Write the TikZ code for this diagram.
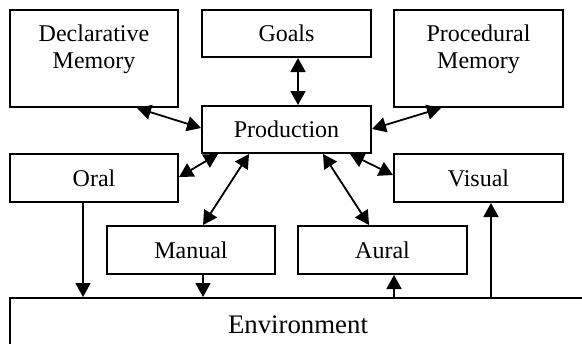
\documentclass[tikz,border=0pt]{standalone}
\usepackage{fontspec}
\setmainfont{Liberation Serif}
\usetikzlibrary{arrows.meta}
\begin{document}
\begin{tikzpicture}[x=0.5pt,y=-0.5pt,
  box/.style={draw=black, line width=1pt, fill=white, inner sep=0pt, font=\fontsize{12}{13.5}\selectfont},
  lbl/.style={align=center, font=\fontsize{12}{13.5}\selectfont},
  link/.style={line width=0.9pt, draw=black},
  tip/.style={-{Triangle[length=7pt,width=7.5pt]}},
  tips/.style={{Triangle[length=7pt,width=7.5pt]}-{Triangle[length=7pt,width=7.5pt]}}]
\useasboundingbox (0,0) rectangle (582,343);
\clip (0,0) rectangle (582,343);
% boxes
\node[box, minimum width=84pt, minimum height=48.5pt,
  label={[lbl, yshift=4.5pt]center:{Declarative\\Memory}}] (decl) at (94,58.5) {};
\node[box, minimum width=84.5pt, minimum height=23.5pt] (goals) at (286.5,33.5) {Goals};
\node[box, minimum width=84.5pt, minimum height=48.5pt,
  label={[lbl, yshift=4.5pt]center:{Procedural\\Memory}}] (proc) at (478.5,58.5) {};
\node[box, minimum width=84.5pt, minimum height=23.5pt] (prod) at (286.5,129.5) {Production};
\node[box, minimum width=84pt, minimum height=24pt] (oral) at (94,178) {Oral};
\node[box, minimum width=84.5pt, minimum height=24pt] (visual) at (478.5,178) {Visual};
\node[box, minimum width=84pt, minimum height=24pt] (manual) at (191,250) {Manual};
\node[box, minimum width=84.5pt, minimum height=24pt] (aural) at (382.5,250) {Aural};
\node[box, minimum width=288pt, minimum height=27pt, font=\fontsize{13.4}{15}\selectfont] (env) at (298,325) {Environment};
% connectors
\draw[link, tips] (decl.south -| 137,0) -- (prod.west |- 0,128);
\draw[link, tips] (goals.south -| 298,0) -- (prod.north -| 298,0);
\draw[link, tips] (proc.south -| 441,0) -- (prod.east |- 0,129);
\draw[link, tips] (oral.east |- 0,177) -- (prod.south -| 218,0);
\draw[link, tips] (prod.south -| 249,0) -- (manual.north -| 203,0);
\draw[link, tips] (prod.south -| 323,0) -- (aural.north -| 369,0);
\draw[link, tips] (prod.south -| 350,0) -- (visual.west |- 0,175);
\draw[link, tip] (oral.south -| 83,0) -- (env.north -| 83,0);
\draw[link, tip] (manual.south -| 203,0) -- (env.north -| 203,0);
\draw[link, tip] (env.north -| 394,0) -- (aural.south -| 394,0);
\draw[link, tip] (env.north -| 491,0) -- (visual.south -| 491,0);
\end{tikzpicture}
\end{document}
